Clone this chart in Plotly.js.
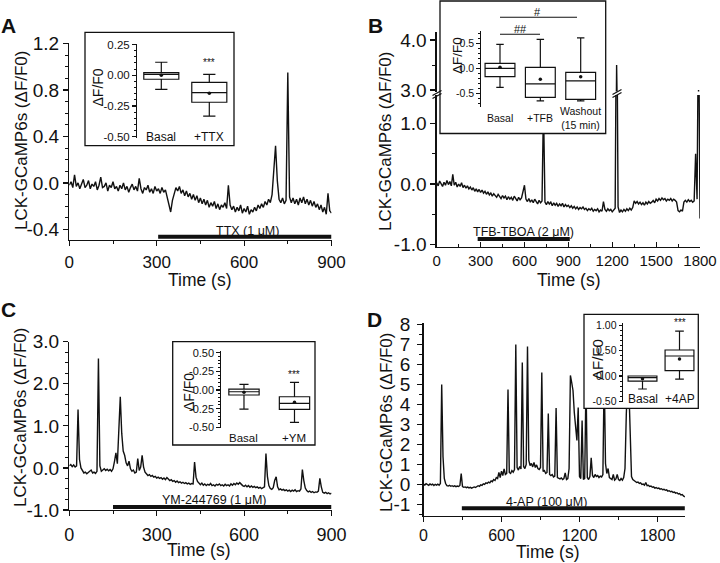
<!DOCTYPE html>
<html><head><meta charset="utf-8">
<script src="https://cdn.plot.ly/plotly-3.0.1.min.js"></script>
<style>html,body{margin:0;padding:0;background:#fff;}#chart{width:720px;height:563px;}</style>
</head><body><div id="chart"></div>
<script>
// ---------------- DATA ----------------
// Panel A: LCK-GCaMP6s trace, TTX (sampled every 6 s)
const aStep = 6;
const aValues = [
 -0.02,0.01,-0.04,0.07,-0.03,0.00,-0.05,-0.01,0.03,-0.04,
 -0.02,0.02,-0.05,-0.01,-0.03,0.01,-0.06,-0.02,0.05,-0.04,
 -0.03,0.00,-0.07,-0.02,-0.04,0.01,-0.05,-0.03,-0.07,-0.02,
 -0.05,0.00,-0.06,-0.03,-0.08,-0.04,-0.01,-0.06,-0.03,-0.07,
 0.04,-0.05,-0.09,-0.04,-0.06,-0.02,-0.08,-0.05,-0.09,-0.03,
 -0.07,-0.05,-0.09,-0.04,-0.08,-0.06,-0.12,-0.20,-0.25,-0.15,
 -0.08,-0.04,-0.07,-0.03,-0.09,-0.06,-0.11,-0.07,-0.12,-0.09,
 -0.14,-0.10,-0.15,-0.11,-0.17,-0.13,-0.18,-0.14,-0.19,-0.15,
 -0.21,-0.17,-0.20,-0.16,-0.22,-0.18,-0.23,-0.19,-0.21,-0.17,
 -0.22,-0.02,-0.19,-0.23,-0.20,-0.25,-0.21,-0.24,-0.19,-0.26,
 -0.22,-0.25,-0.20,-0.27,-0.23,-0.25,-0.21,-0.24,-0.19,-0.22,
 -0.18,-0.21,-0.16,-0.19,-0.14,-0.17,-0.10,0.10,0.32,0.02,
 -0.14,-0.17,-0.13,-0.18,-0.15,0.95,-0.12,-0.17,-0.13,-0.18,
 -0.14,-0.19,-0.13,-0.17,-0.12,-0.18,-0.14,-0.19,-0.15,-0.20,
 -0.16,-0.21,-0.18,-0.23,-0.19,-0.25,-0.21,-0.27,-0.09,-0.24,
 -0.26];
const aDrugPeriod = [305, 900];
const aDrugLabel = 'TTX (1 \u03bcM)';

// Panel B: TFB-TBOA (sampled every 10 s)
const bStep = 10;
const bValues = [
 0.02,-0.03,0.05,0.00,-0.04,0.03,-0.02,0.06,-0.01,0.04,
 -0.03,0.16,-0.02,0.03,-0.05,0.00,-0.04,0.02,-0.06,-0.02,
 -0.07,-0.03,-0.08,-0.05,-0.10,-0.06,-0.12,-0.08,-0.13,-0.09,
 -0.14,-0.10,-0.15,-0.12,-0.17,-0.13,-0.18,-0.15,-0.20,-0.16,
 -0.19,-0.22,-0.17,-0.21,-0.24,-0.19,-0.23,-0.20,-0.26,-0.21,
 -0.25,-0.22,-0.27,-0.20,-0.24,-0.28,-0.22,-0.26,-0.23,-0.10,
 -0.02,-0.25,-0.29,-0.24,-0.30,-0.26,-0.31,-0.25,-0.29,-0.33,
 -0.27,-0.31,-0.28,1.30,-0.30,-0.34,-0.29,-0.33,-0.30,-0.36,
 -0.31,-0.35,-0.32,-0.37,-0.33,-0.36,-0.32,-0.38,-0.34,-0.37,
 -0.35,-0.39,-0.36,-0.40,-0.37,-0.41,-0.38,-0.42,-0.39,-0.41,
 -0.38,-0.42,-0.40,-0.44,-0.41,-0.43,-0.40,-0.45,-0.42,-0.44,
 -0.41,-0.46,-0.43,-0.45,-0.29,-0.42,-0.45,-0.41,-0.44,-0.42,
 -0.46,-0.43,-0.40,3.50,-0.38,-0.47,-0.43,-0.46,-0.42,-0.45,
 -0.41,-0.44,-0.40,-0.43,-0.39,-0.28,-0.32,-0.29,-0.33,-0.30,
 -0.34,-0.31,-0.35,-0.30,-0.33,-0.29,-0.32,-0.30,-0.27,-0.31,
 -0.25,-0.28,-0.24,-0.27,-0.23,-0.26,-0.24,-0.28,-0.25,-0.27,
 -0.24,-0.28,-0.25,-0.27,-0.30,-0.44,-0.46,-0.43,-0.45,-0.30,
 -0.27,-0.30,-0.26,-0.29,-0.27,-0.30,-0.28,0.50,-0.25,3.00,
 -0.57];
const bDrugPeriod = [280, 910];
const bDrugLabel = 'TFB-TBOA (2 \u03bcM)';

// Panel C: YM-244769 (sampled every 5 s)
const cStep = 5;
const cValues = [
 0.05,0.08,0.03,0.07,0.02,0.05,1.39,0.20,0.00,-0.08,
 -0.12,-0.10,-0.14,-0.11,-0.08,-0.05,-0.12,-0.10,-0.13,-0.08,
 2.60,0.05,-0.08,-0.05,-0.02,-0.06,-0.03,-0.07,-0.04,-0.08,
 -0.02,0.15,0.36,0.10,0.90,1.69,0.82,0.40,0.30,0.12,
 0.05,0.16,-0.02,-0.08,-0.05,-0.12,-0.10,0.22,-0.06,0.02,
 0.30,0.02,-0.10,-0.14,-0.18,-0.16,-0.20,-0.18,-0.22,-0.20,
 -0.24,-0.22,-0.25,-0.23,-0.27,-0.24,-0.28,-0.23,-0.26,-0.30,
 -0.28,-0.32,-0.30,-0.34,-0.31,-0.35,-0.33,-0.36,-0.34,-0.37,
 -0.35,-0.38,-0.36,-0.39,-0.37,-0.38,0.14,-0.22,-0.32,-0.37,
 -0.40,-0.36,-0.41,-0.38,-0.42,-0.39,-0.41,-0.37,-0.42,-0.40,
 -0.43,-0.39,-0.41,-0.38,-0.42,-0.40,-0.43,-0.39,-0.42,-0.40,
 -0.43,-0.38,-0.41,-0.37,-0.40,-0.36,-0.39,-0.35,-0.40,-0.42,
 -0.44,-0.41,-0.45,-0.42,-0.46,-0.43,-0.46,-0.44,-0.47,-0.45,
 -0.48,-0.46,-0.49,-0.47,-0.45,0.34,-0.20,-0.42,-0.49,-0.51,
 -0.47,-0.30,-0.21,-0.45,-0.52,-0.50,-0.53,-0.51,-0.54,-0.52,
 -0.55,-0.53,-0.56,-0.53,-0.55,-0.52,-0.56,-0.54,-0.55,-0.50,
 -0.04,-0.30,-0.48,-0.54,-0.57,-0.55,-0.58,-0.56,-0.59,-0.57,
 -0.58,-0.55,-0.25,-0.45,-0.58,-0.60,-0.58,-0.61,-0.59,-0.62,
 -0.60];
const cDrugPeriod = [150, 900];
const cDrugLabel = 'YM-244769 (1 \u03bcM)';

// Panel D: 4-AP (sampled every 10 s)
const dStep = 10;
const dValues = [
 0.02,-0.03,0.04,0.00,-0.04,0.03,-0.02,0.02,-0.05,0.01,
 -0.03,0.02,-0.04,0.05,5.00,1.40,0.30,0.05,-0.06,-0.08,
 -0.04,-0.09,-0.06,-0.10,-0.07,-0.11,-0.08,-0.10,-0.05,0.55,
 -0.10,-0.14,-0.12,-0.16,-0.13,-0.17,-0.14,-0.18,-0.15,-0.12,
 -0.15,-0.10,-0.06,-0.09,-0.02,-0.05,0.03,0.00,0.08,0.05,
 0.12,0.08,0.18,0.14,0.25,0.20,0.35,0.30,0.60,0.35,
 0.67,0.45,0.78,0.50,0.55,4.75,0.60,0.55,0.70,0.62,
 0.75,7.00,0.85,0.72,0.90,0.78,6.10,0.90,0.80,1.00,
 6.90,1.20,0.95,1.05,0.88,1.10,0.85,0.98,0.80,0.75,
 0.85,5.60,0.65,0.70,0.55,0.60,3.55,0.50,0.45,0.50,
 0.38,0.42,3.83,0.35,0.32,0.28,0.33,0.25,0.30,0.58,
 0.25,0.30,0.80,5.45,5.10,4.70,3.60,2.80,2.20,3.85,
 0.40,0.30,3.20,0.25,0.30,5.20,0.35,0.25,0.40,1.33,
 0.45,0.35,0.50,0.40,0.45,0.35,0.42,0.38,0.50,5.60,
 1.05,0.55,0.80,0.35,0.30,0.25,0.50,0.22,0.28,0.50,
 0.25,0.20,0.30,0.22,0.35,0.80,3.50,5.20,4.80,2.50,
 0.40,0.25,0.18,0.15,0.10,0.12,0.05,0.08,0.00,0.02,
 -0.03,0.10,-0.06,-0.04,-0.10,-0.08,-0.14,-0.12,-0.18,-0.15,
 -0.20,-0.18,-0.23,-0.21,-0.26,-0.24,-0.29,-0.27,-0.33,-0.31,
 -0.36,-0.34,-0.40,-0.38,-0.43,-0.41,-0.47,-0.45,-0.52,-0.50,
 -0.57,-0.62];
const dDrugPeriod = [295, 2010];
const dDrugLabel = '4-AP (100 \u03bcM)';

// Inset box statistics
const aCats = ['Basal', '+TTX'];
const aQ1 = [-0.032, -0.219], aMed = [0.008, -0.141], aQ3 = [0.021, -0.057];
const aLo = [-0.114, -0.331], aHi = [0.106, 0.008], aMean = [0.0, -0.146];

const bCats = ['Basal', '+TFB', 'Washout<br>(15 min)'];
const bQ1 = [-0.167, -0.58, -0.62], bMed = [0.0, -0.31, -0.25], bQ3 = [0.10, 0.02, -0.08];
const bLo = [-0.38, -0.65, -0.65], bHi = [0.48, 0.58, 0.61], bMean = [0.02, -0.22, -0.17];

const cCats = ['Basal', '+YM'];
const cQ1 = [-0.067, -0.259], cMed = [-0.023, -0.178], cQ3 = [0.013, -0.09];
const cLo = [-0.255, -0.433], cHi = [0.076, 0.103], cMean = [-0.03, -0.165];

const dCats = ['Basal', '+4AP'];
const dQ1 = [-0.10, 0.105], dMed = [-0.034, 0.396], dQ3 = [0.0, 0.515];
const dLo = [-0.257, -0.06], dHi = [0.0, 0.89], dMean = [-0.053, 0.337];

// Tick labels
const aXTicks = [0, 300, 600, 900];
const aYTicks = [-0.4, 0, 0.4, 0.8, 1.2], aYText = ['-0.4', '0.0', '0.4', '0.8', '1.2'];
const bXTicks = [0, 300, 600, 900, 1200, 1500, 1800];
const bYLowTicks = [-1, 0, 1], bYLowText = ['-1.0', '0.0', '1.0'];
const bYHighTicks = [3, 4], bYHighText = ['3.0', '4.0'];
const cXTicks = [0, 300, 600, 900];
const cYTicks = [-1, 0, 1, 2, 3], cYText = ['-1.0', '0.0', '1.0', '2.0', '3.0'];
const dXTicks = [0, 600, 1200, 1800];
const dYTicks = [-1, 0, 1, 2, 3, 4, 5, 6, 7, 8], dYText = ['-1', '0', '1', '2', '3', '4', '5', '6', '7', '8'];
const aInYTicks = [-0.5, -0.25, 0, 0.25], aInYText = ['-0.50', '-0.25', '0.00', '0.25'];
const bInYTicks = [-0.5, 0, 0.5], bInYText = ['-0.5', '0.0', '0.5'];
const cInYTicks = [-0.5, -0.25, 0, 0.25, 0.5], cInYText = ['-0.50', '-0.25', '0.00', '-0.25', '0.50'];
const dInYTicks = [-0.5, 0, 0.5, 1], dInYText = ['-0.50', '0.00', '0.50', '1.00'];

// ---------------- LAYOUT HELPERS ----------------
const FONT = 'Liberation Sans, Arial, Helvetica, sans-serif';
const INK = '#111';
const W = 720, H = 563;
const fx = p => p / W;
const fy = p => 1 - p / H;
const domX = (a, b) => [fx(a), fx(b)];
const domY = (top, bottom) => [fy(bottom), fy(top)];

function ax(o) {
  const base = {
    showline: true, linecolor: INK, linewidth: 1.3, mirror: false,
    showgrid: false, zeroline: false, fixedrange: true,
    ticks: 'outside', ticklen: 5, tickwidth: 1.2, tickcolor: INK,
    tickmode: 'array', tickfont: {family: FONT, size: 18, color: INK}
  };
  const r = Object.assign(base, o);
  if (o.minorDtick) {
    r.minor = {ticks: r.ticks, ticklen: o.minorLen || 3, tickwidth: 1, tickcolor: INK,
               tickmode: 'linear', tick0: 0, dtick: o.minorDtick};
    delete r.minorDtick; delete r.minorLen;
  }
  return r;
}
const hidden = (dom, anchor, range) => ({domain: dom, anchor: anchor, range: range, visible: false, fixedrange: true});

// ---------------- TRACES ----------------
const lineStyle = {color: INK, width: 1.4};
const barStyle = {color: INK, width: 4};
function level(period, v) { return period.map(() => v); }

const traces = [];
traces.push({type: 'scatter', mode: 'lines', x0: 0, dx: aStep, y: aValues, xaxis: 'x', yaxis: 'y', line: lineStyle});
traces.push({type: 'scatter', mode: 'lines', x: aDrugPeriod, y: level(aDrugPeriod, -0.463), xaxis: 'x', yaxis: 'y', line: barStyle});
traces.push({type: 'scatter', mode: 'lines', x0: 0, dx: bStep, y: bValues, xaxis: 'x2', yaxis: 'y2', line: lineStyle});
traces.push({type: 'scatter', mode: 'lines', x0: 0, dx: bStep, y: bValues, xaxis: 'x2', yaxis: 'y3', line: lineStyle});
traces.push({type: 'scatter', mode: 'lines', x: bDrugPeriod, y: level(bDrugPeriod, -0.91), xaxis: 'x2', yaxis: 'y2', line: barStyle});
traces.push({type: 'scatter', mode: 'lines', x0: 0, dx: cStep, y: cValues, xaxis: 'x3', yaxis: 'y4', line: lineStyle});
traces.push({type: 'scatter', mode: 'lines', x: cDrugPeriod, y: level(cDrugPeriod, -0.93), xaxis: 'x3', yaxis: 'y4', line: barStyle});
traces.push({type: 'scatter', mode: 'lines', x0: 0, dx: dStep, y: dValues, xaxis: 'x4', yaxis: 'y5', line: lineStyle});
traces.push({type: 'scatter', mode: 'lines', x: dDrugPeriod, y: level(dDrugPeriod, -1.19), xaxis: 'x4', yaxis: 'y5', line: barStyle});
// opaque white panels behind the inset frames of B and D
const panelX = [0, 1, 1, 0, 0], panelY = [0, 0, 1, 1, 0];
['x5|y6', 'x6|y7'].forEach(s => {
  const [xa, ya] = s.split('|');
  traces.push({type: 'scatter', mode: 'lines', x: panelX, y: panelY, fill: 'toself', fillcolor: '#ffffff',
    line: {width: 0, color: 'rgba(0,0,0,0)'}, xaxis: xa, yaxis: ya, hoverinfo: 'skip'});
});

function boxes(cats, q1, med, q3, lo, hi, mean, xa, ya, width, wwidth) {
  const idx = cats.map((c, i) => i);
  traces.push({type: 'box', x: idx, q1: q1, median: med, q3: q3, lowerfence: lo, upperfence: hi,
    width: width, whiskerwidth: wwidth, fillcolor: 'white', boxpoints: false,
    line: {color: INK, width: 1.2}, xaxis: xa, yaxis: ya, hoverinfo: 'skip'});
  traces.push({type: 'scatter', mode: 'markers', x: idx, y: mean, marker: {color: INK, size: 3.5},
    xaxis: xa, yaxis: ya, hoverinfo: 'skip'});
}
boxes(aCats, aQ1, aMed, aQ3, aLo, aHi, aMean, 'x7', 'y8', 0.73, 0.35);
boxes(bCats, bQ1, bMed, bQ3, bLo, bHi, bMean, 'x8', 'y9', 0.74, 0.25);
boxes(cCats, cQ1, cMed, cQ3, cLo, cHi, cMean, 'x9', 'y10', 0.6, 0.3);
boxes(dCats, dQ1, dMed, dQ3, dLo, dHi, dMean, 'x10', 'y11', 0.78, 0.3);

// ---------------- AXES ----------------
const layout = {
  width: W, height: H, autosize: false,
  margin: {l: 0, r: 0, t: 0, b: 0, pad: 0},
  paper_bgcolor: 'white', plot_bgcolor: 'white',
  showlegend: false, hovermode: false,
  font: {family: FONT, color: INK},
  // Panel A
  xaxis: ax({domain: domX(69.3, 331.5), anchor: 'y', range: [0, 900], tickvals: aXTicks, ticktext: aXTicks.map(String),
    minorDtick: 150, tickfont: {family: FONT, size: 17, color: INK}, ticklabelstandoff: 1}),
  yaxis: ax({domain: domY(43.4, 240), anchor: 'x', range: [-0.491, 1.2], tickvals: aYTicks, ticktext: aYText,
    minorDtick: 0.1, tickfont: {family: FONT, size: 19, color: INK}}),
  // Panel B
  xaxis2: ax({domain: domX(436.7, 700), anchor: 'y2', range: [0, 1800], tickvals: bXTicks, ticktext: bXTicks.map(String),
    ticks: 'inside', minorDtick: 150, tickfont: {family: FONT, size: 15, color: INK}}),
  yaxis2: ax({domain: domY(95, 246.7), anchor: 'x2', range: [-1.036, 1.471], tickvals: bYLowTicks, ticktext: bYLowText,
    minorDtick: 0.5, tickfont: {family: FONT, size: 19, color: INK}}),
  yaxis3: ax({domain: domY(31.7, 91.5), anchor: 'x2', range: [2.97, 4.166], tickvals: bYHighTicks, ticktext: bYHighText,
    minorDtick: 0.5, tickfont: {family: FONT, size: 19, color: INK}}),
  // Panel C
  xaxis3: ax({domain: domX(69.3, 331.5), anchor: 'y4', range: [0, 900], tickvals: cXTicks, ticktext: cXTicks.map(String),
    minorDtick: 150, tickfont: {family: FONT, size: 18, color: INK}, ticklabelstandoff: 3}),
  yaxis4: ax({domain: domY(341.7, 510), anchor: 'x3', range: [-1, 3], tickvals: cYTicks, ticktext: cYText,
    minorDtick: 0.25, tickfont: {family: FONT, size: 19, color: INK}}),
  // Panel D
  xaxis4: ax({domain: domX(423.5, 685), anchor: 'y5', range: [0, 2011.5], tickvals: dXTicks, ticktext: dXTicks.map(String),
    minorDtick: 300, tickfont: {family: FONT, size: 16, color: INK}}),
  yaxis5: ax({domain: domY(322.7, 515.7), anchor: 'x4', range: [-1.56, 8.09], tickvals: dYTicks, ticktext: dYText,
    minorDtick: 0.5, tickfont: {family: FONT, size: 19, color: INK}, ticklabelstandoff: 3}),
  // white panels behind insets
  xaxis5: hidden(domX(440, 605.7), 'y6', [0, 1]),
  yaxis6: hidden(domY(1, 133.5), 'x5', [0, 1]),
  xaxis6: hidden(domX(584, 698.3), 'y7', [0, 1]),
  yaxis7: hidden(domY(314.3, 408.3), 'x6', [0, 1]),
  // Insets
  xaxis7: hidden(domX(136.7, 234), 'y8', [-0.5125, 1.5146]),
  yaxis8: ax({domain: domY(43.5, 138), anchor: 'x7', range: [-0.509, 0.258], tickvals: aInYTicks, ticktext: aInYText,
    ticklen: 3.5, minorDtick: 0.05, minorLen: 2, linewidth: 1.2, tickfont: {family: FONT, size: 11.5, color: INK}}),
  xaxis8: hidden(domX(481, 605.7), 'y9', [-0.471, 2.62]),
  yaxis9: ax({domain: domY(30.7, 106.7), anchor: 'x8', range: [-0.768, 0.752], tickvals: bInYTicks, ticktext: bInYText,
    ticklen: 3.5, minorDtick: 0.1, minorLen: 2, linewidth: 1.2, tickfont: {family: FONT, size: 10.5, color: INK}}),
  xaxis9: hidden(domX(221, 315), 'y10', [-0.455, 1.406]),
  yaxis10: ax({domain: domY(351, 428.3), anchor: 'x9', range: [-0.513, 0.523], tickvals: cInYTicks, ticktext: cInYText,
    ticklen: 3.5, minorDtick: 0.05, minorLen: 2, linewidth: 1.2, tickfont: {family: FONT, size: 11, color: INK}}),
  xaxis10: hidden(domX(623.3, 698.3), 'y11', [-0.519, 1.508]),
  yaxis11: ax({domain: domY(323.3, 401.7), anchor: 'x10', range: [-0.509, 1.044], tickvals: dInYTicks, ticktext: dInYText,
    ticklen: 3.5, minorDtick: 0.1, minorLen: 2, linewidth: 1.2, tickfont: {family: FONT, size: 10.5, color: INK}})
};

// ---------------- ANNOTATIONS ----------------
function note(text, x, y, size, extra) {
  return Object.assign({text: text, x: fx(x), y: fy(y), xref: 'paper', yref: 'paper', showarrow: false,
    xanchor: 'center', yanchor: 'middle', font: {family: FONT, size: size, color: INK}}, extra || {});
}
function catNote(text, i, xa, y, size) {
  return {text: text, x: i, xref: xa, y: fy(y), yref: 'paper', showarrow: false, xanchor: 'center', yanchor: 'middle',
    font: {family: FONT, size: size, color: INK}};
}
function drugNote(text, t, xa, y) {
  return {text: text, x: t, xref: xa, y: fy(y), yref: 'paper', showarrow: false, xanchor: 'center', yanchor: 'middle',
    font: {family: FONT, size: 12.5, color: INK}};
}
const yTitle = 'LCK-GCaMP6s (\u0394F/F0)';
const anns = [
  note('<b>A</b>', 8.5, 26, 21), note('<b>B</b>', 375, 26, 21), note('<b>C</b>', 8.5, 309, 21), note('<b>D</b>', 374, 319, 21),
  note(yTitle, 21, 140, 17, {textangle: -90}), note(yTitle, 385, 141, 17, {textangle: -90}),
  note(yTitle, 20, 417, 17, {textangle: -90}), note(yTitle, 386, 422, 17, {textangle: -90}),
  note('Time (s)', 200, 280, 17.5), note('Time (s)', 569, 280, 17.5),
  note('Time (s)', 199, 550, 17.5), note('Time (s)', 548, 551.5, 17.5),
  drugNote(aDrugLabel, 613, 'x', 231), drugNote(bDrugLabel, 595, 'x2', 231.5),
  drugNote(cDrugLabel, 498, 'x3', 500), drugNote(dDrugLabel, 945, 'x4', 501.5),
  note('\u0394F/F0', 97.5, 88, 14, {textangle: -90}), note('\u0394F/F0', 457, 56, 13.5, {textangle: -90}),
  note('\u0394F/F0', 189, 392, 14, {textangle: -90}), note('\u0394F/F0', 597, 360, 15, {textangle: -90}),
  catNote('***', 1, 'x7', 63, 10), catNote('***', 1, 'x9', 374, 10), catNote('***', 1, 'x10', 322.5, 10),
  note('##', 520, 29.5, 11), note('#', 537, 12, 11)
];
aCats.forEach((c, i) => anns.push(catNote(c, i, 'x7', 137.3, 12)));
bCats.forEach((c, i) => anns.push(catNote(c, i, 'x8', 118.3, 10.5)));
cCats.forEach((c, i) => anns.push(catNote(c, i, 'x9', 438.3, 11.5)));
dCats.forEach((c, i) => anns.push(catNote(c, i, 'x10', 399.3, 12)));
layout.annotations = anns;

// ---------------- SHAPES (frames, break marks, significance lines) ----------------
function frame(l, t, r, b) {
  return {type: 'rect', xref: 'paper', yref: 'paper', x0: fx(l), x1: fx(r), y0: fy(b), y1: fy(t),
    line: {color: INK, width: 1.3}, fillcolor: 'rgba(0,0,0,0)', layer: 'above'};
}
function seg(x0, y0, x1, y1, w) {
  return {type: 'line', xref: 'paper', yref: 'paper', x0: fx(x0), y0: fy(y0), x1: fx(x1), y1: fy(y1),
    line: {color: INK, width: w || 1.2}, layer: 'above'};
}
layout.shapes = [
  frame(85, 32.3, 234, 145.7), frame(440, 1, 605.7, 133.5), frame(172.7, 341.7, 315, 445), frame(584, 314.3, 698.3, 408.3),
  seg(432.5, 95.5, 441.5, 90.5), seg(432.5, 98.5, 441.5, 93.5),
  seg(612.5, 94.5, 621.5, 89.5), seg(612.5, 97.5, 621.5, 92.5),
  seg(500, 34.3, 540, 34.3, 1.1), seg(500, 17.3, 577, 17.3, 1.1)
];

Plotly.newPlot('chart', traces, layout, {displayModeBar: false, staticPlot: true});
</script></body></html>
